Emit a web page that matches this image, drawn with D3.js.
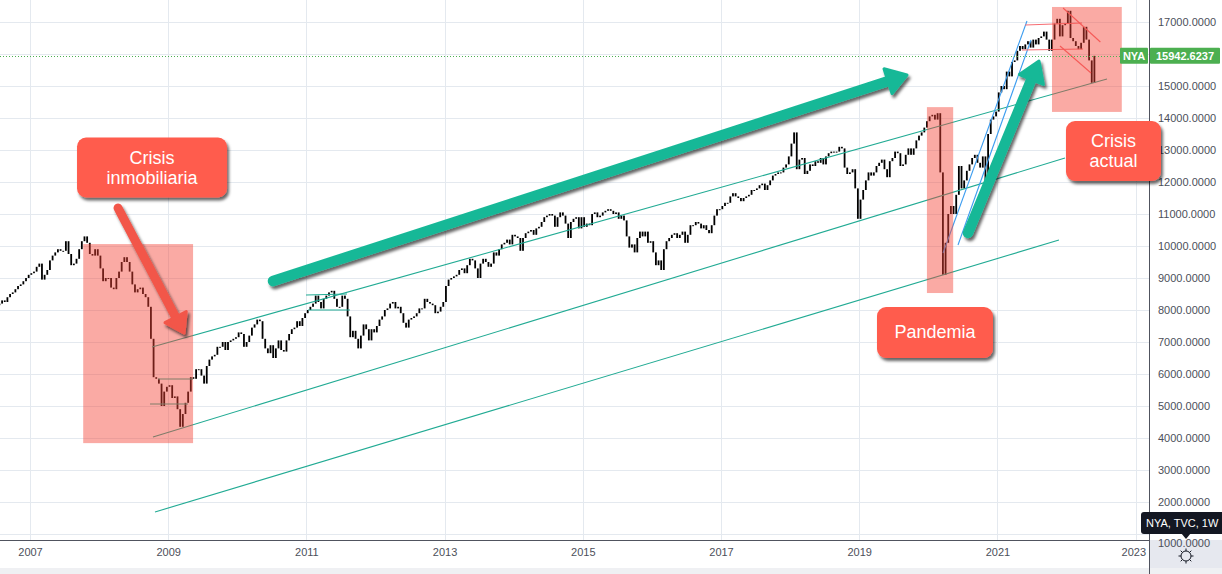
<!DOCTYPE html>
<html>
<head>
<meta charset="utf-8">
<script src="https://cdn.jsdelivr.net/npm/d3@7"></script>
<style>
  body { margin: 0; background: #fff; overflow: hidden; }
  svg { display: block; font-family: "Liberation Sans", Arial, sans-serif; }
</style>
</head>
<body>
<script>
// NYA (NYSE Composite) closes, two per month (26 per year)
var close2006 = [8150, 8200, 8300, 8250, 8400, 8500, 8550, 8650, 8750, 8800, 8900, 9000, 9100]; // from July
var close2007 = [9150, 9200, 9350, 9450, 8950, 9100, 9250, 9550, 9700, 9800, 9900, 9850, 9850, 10150, 9750, 9400, 9450, 9600, 9900, 10150, 10300, 10100, 9750, 9700, 9900, 9700];
var close2008 = [9300, 8900, 9000, 9000, 8700, 8650, 9000, 9200, 9500, 9650, 9500, 9200, 8800, 8550, 8650, 8700, 8500, 8400, 8100, 7100, 5900, 5850, 5700, 5000, 5450, 5600];
var close2009 = [5650, 5250, 5300, 4900, 4350, 4750, 5100, 5450, 5900, 5850, 6150, 6150, 5950, 5700, 6250, 6450, 6550, 6600, 6850, 6850, 7000, 6750, 7000, 7050, 7100, 7150];
var close2010 = [7300, 7250, 6850, 7000, 7200, 7450, 7550, 7700, 7650, 7100, 6800, 6650, 6900, 6500, 6800, 7050, 6750, 6700, 7050, 7250, 7400, 7450, 7650, 7500, 7750, 7900];
var close2011 = [8000, 8100, 8200, 8450, 8250, 8050, 8350, 8450, 8550, 8600, 8350, 8100, 8100, 8450, 8350, 7800, 7150, 7350, 7100, 6800, 7200, 7550, 7400, 7050, 7400, 7300];
var close2012 = [7500, 7700, 7800, 8000, 8050, 8200, 8250, 8050, 8100, 7900, 7600, 7450, 7700, 7750, 7800, 7900, 8050, 8050, 8350, 8250, 8200, 8150, 7900, 7950, 8100, 8250];
var close2013 = [8750, 8950, 9000, 9050, 9100, 9250, 9300, 9150, 9400, 9600, 9550, 9300, 9000, 9450, 9600, 9500, 9350, 9450, 9800, 9700, 9900, 10050, 10100, 10200, 10050, 10350];
var close2014 = [10300, 10250, 9850, 10250, 10400, 10450, 10500, 10350, 10550, 10600, 10750, 10900, 10950, 11000, 10950, 10600, 10900, 11050, 10950, 10700, 10250, 10750, 10850, 10900, 10550, 10900];
var close2015 = [10600, 10700, 10650, 11000, 11050, 10900, 10950, 11050, 11100, 11150, 11100, 11000, 11050, 10850, 10950, 10800, 10300, 9950, 10050, 9800, 10250, 10450, 10300, 10450, 10100, 10150];
var close2016 = [9800, 9400, 9550, 9250, 9900, 10150, 10250, 10350, 10400, 10250, 10350, 10450, 10100, 10350, 10650, 10650, 10750, 10700, 10550, 10650, 10500, 10400, 10650, 10950, 11150, 11150];
var close2017 = [11250, 11350, 11350, 11550, 11650, 11550, 11500, 11400, 11500, 11550, 11600, 11750, 11750, 11800, 11900, 11950, 11750, 11900, 12050, 12200, 12250, 12300, 12300, 12450, 12550, 12800];
var close2018 = [13200, 13550, 12400, 12700, 12750, 12250, 12350, 12550, 12500, 12650, 12600, 12750, 12550, 12800, 12900, 12950, 12950, 12950, 13100, 13050, 12450, 12250, 12300, 12400, 11800, 10850];
var close2019 = [11450, 11750, 12050, 12300, 12200, 12300, 12500, 12600, 12700, 12400, 12150, 12650, 12750, 12950, 12900, 12500, 12550, 12850, 13050, 12850, 13050, 13300, 13450, 13550, 13700, 13900];
var close2020 = [14050, 14100, 13950, 14150, 12300, 9100, 10100, 11000, 11250, 11000, 11600, 12500, 11800, 12050, 12350, 12550, 12750, 12850, 12600, 12450, 12800, 12050, 13500, 13950, 14050, 14200];
var close2021 = [14800, 15000, 14900, 15450, 15300, 15750, 15800, 16100, 16250, 16150, 16300, 16400, 16200, 16450, 16300, 16500, 16550, 16700, 16450, 16100, 16450, 16950, 17100, 16550, 16900, 16950];
var close2022 = [17350, 16500, 16400, 16250, 16150, 16350, 16850, 16450, 15800, 15100, 15942.6237];

var lastPrice = 15942.6237;
var yearTicks = [2007, 2009, 2011, 2013, 2015, 2017, 2019, 2021, 2023];
var priceTicks = [1000, 2000, 3000, 4000, 5000, 6000, 7000, 8000, 9000, 10000, 11000, 12000, 13000, 14000, 15000, 16000, 17000];

// drawings, in (year, price)
var shadeZones = [
  [2007.77, 10060, 2009.36, 3840],
  [2019.98, 14340, 2020.36, 8530],
  [2021.79, 17470, 2022.80, 14190]
];
var tealLines = [
  [2008.766, 6844, 2022.586, 15219],
  [2008.78, 4031, 2021.978, 12750],
  [2008.809, 1688, 2021.891, 10188],
  [2010.994, 8469, 2011.588, 8500],
  [2011.023, 8000, 2011.631, 8000],
  [2008.852, 5844, 2009.359, 5844],
  [2008.737, 5063, 2009.287, 5063]
];
var blueLines = [
  [2020.214, 9781, 2021.428, 17031],
  [2020.43, 10031, 2021.486, 16437]
];
var redLines = [
  [2021.40, 16906, 2022.225, 16969],
  [2021.356, 16125, 2022.24, 16156],
  [2021.95, 17437, 2022.49, 16375],
  [2021.906, 16250, 2022.355, 15406]
];
var arrows = [
  {from: [2008.274, 11188], to: [2009.229, 7281], color: "#f2564a"},
  {from: [2010.517, 8906], to: [2019.692, 15344], color: "#17b897"},
  {from: [2020.574, 10406], to: [2021.602, 15781], color: "#17b897"}
];
var labels = [
  {at: [2008.766, 12453], lines: ["Crisis", "inmobiliaria"]},
  {at: [2020.097, 7297], lines: ["Pandemia"]},
  {at: [2022.68, 12969], lines: ["Crisis", "actual"]}
];

var width = 1222, height = 574;
var plotRight = 1149, plotBottom = 540;

var x = d3.scaleLinear().domain([2007, 2023]).range([30, 1135.6]);
var y = d3.scaleLinear().domain([17000, 2000]).range([22, 502]);

// build candles, open = previous close
var years = [[2006, close2006, 13], [2007, close2007, 0], [2008, close2008, 0], [2009, close2009, 0],
  [2010, close2010, 0], [2011, close2011, 0], [2012, close2012, 0], [2013, close2013, 0],
  [2014, close2014, 0], [2015, close2015, 0], [2016, close2016, 0], [2017, close2017, 0],
  [2018, close2018, 0], [2019, close2019, 0], [2020, close2020, 0], [2021, close2021, 0], [2022, close2022, 0]];
var candles = [];
var prev = null;
years.forEach(function(yr) {
  yr[1].forEach(function(c, i) {
    candles.push({t: yr[0] + (yr[2] + i + 0.5) / 26, o: prev == null ? c : prev, c: c});
    prev = c;
  });
});

var svg = d3.select("body").append("svg")
  .attr("width", width).attr("height", height);

var defs = svg.append("defs");
defs.append("clipPath").attr("id", "plot")
  .append("rect").attr("x", 0).attr("y", 0).attr("width", plotRight).attr("height", plotBottom);
var sh = defs.append("filter").attr("id", "shadow")
  .attr("x", "-20%").attr("y", "-20%").attr("width", "150%").attr("height", "150%");
sh.append("feDropShadow").attr("dx", 2).attr("dy", 3).attr("stdDeviation", 1.4)
  .attr("flood-color", "#000").attr("flood-opacity", 0.6);

var g = svg.append("g").attr("clip-path", "url(#plot)");

// grid
g.selectAll(".hgrid").data(priceTicks).enter().append("line")
  .attr("x1", 0).attr("x2", plotRight)
  .attr("y1", function(d) { return Math.round(y(d)) + 0.5; })
  .attr("y2", function(d) { return Math.round(y(d)) + 0.5; })
  .attr("stroke", "#e4e9ef");
g.selectAll(".vgrid").data(yearTicks).enter().append("line")
  .attr("y1", 0).attr("y2", plotBottom)
  .attr("x1", function(d) { return Math.round(x(d)) + 0.5; })
  .attr("x2", function(d) { return Math.round(x(d)) + 0.5; })
  .attr("stroke", "#e4e9ef");

// candles
g.selectAll(".candle").data(candles).enter().append("rect")
  .attr("x", function(d) { return x(d.t) - 0.9; })
  .attr("width", 1.8)
  .attr("y", function(d) { return y(Math.max(d.o, d.c)); })
  .attr("height", function(d) { return Math.max(1, Math.abs(y(d.o) - y(d.c))); })
  .attr("fill", "#000");

function seg(list, color) {
  g.selectAll(null).data(list).enter().append("line")
    .attr("x1", function(d) { return x(d[0]); })
    .attr("y1", function(d) { return y(d[1]); })
    .attr("x2", function(d) { return x(d[2]); })
    .attr("y2", function(d) { return y(d[3]); })
    .attr("stroke", color).attr("stroke-width", 1.1);
}
seg(tealLines, "#22ab94");
seg(blueLines, "#3d9df0");
seg(redLines, "#f66e74");

// shaded zones
g.selectAll(".zone").data(shadeZones).enter().append("rect")
  .attr("x", function(d) { return x(d[0]); })
  .attr("y", function(d) { return y(d[1]); })
  .attr("width", function(d) { return x(d[2]) - x(d[0]); })
  .attr("height", function(d) { return y(d[3]) - y(d[1]); })
  .attr("fill", "rgba(244, 67, 54, 0.45)");

// last price line
g.append("line")
  .attr("x1", 0).attr("x2", plotRight)
  .attr("y1", Math.round(y(lastPrice)) + 0.5).attr("y2", Math.round(y(lastPrice)) + 0.5)
  .attr("stroke", "#4caf50").attr("stroke-dasharray", "1,2");

// arrows
arrows.forEach(function(a, k) {
  var x0 = x(a.from[0]), y0 = y(a.from[1]), x1 = x(a.to[0]), y1 = y(a.to[1]);
  var len = Math.hypot(x1 - x0, y1 - y0), ux = (x1 - x0) / len, uy = (y1 - y0) / len;
  var nx = -uy, ny = ux;
  var sw = k == 0 ? 9 : 10.5, hl = k == 0 ? 18 : 20, hw = k == 0 ? 12 : 13;
  var bx = x1 - ux * hl, by = y1 - uy * hl;
  var ag = svg.append("g").attr("filter", "url(#shadow)");
  ag.append("line")
    .attr("x1", x0).attr("y1", y0).attr("x2", bx + ux * 3).attr("y2", by + uy * 3)
    .attr("stroke", a.color).attr("stroke-width", sw).attr("stroke-linecap", "round");
  ag.append("path")
    .attr("d", "M" + x1 + "," + y1 + "L" + (bx + nx * hw) + "," + (by + ny * hw) + "L" + (bx - nx * hw) + "," + (by - ny * hw) + "Z")
    .attr("fill", a.color).attr("stroke", a.color).attr("stroke-width", 3).attr("stroke-linejoin", "round");
});

// price axis and time axis
svg.append("rect").attr("x", plotRight).attr("y", plotBottom)
  .attr("width", width - plotRight).attr("height", height - plotBottom).attr("fill", "#e6e8ef");
svg.append("rect").attr("x", 0).attr("y", 568).attr("width", width).attr("height", 6).attr("fill", "#eff0f3");

var yAxis = svg.append("g").attr("transform", "translate(" + plotRight + ",0)")
  .call(d3.axisRight(y).tickValues(priceTicks).tickFormat(d3.format(".4f")).tickSize(0).tickPadding(9));
var xAxis = svg.append("g").attr("transform", "translate(0," + plotBottom + ")")
  .call(d3.axisBottom(x).tickValues(yearTicks).tickFormat(d3.format("d")).tickSize(0).tickPadding(8));
[yAxis, xAxis].forEach(function(ax) {
  ax.select(".domain").remove();
  ax.selectAll("text").attr("fill", "#4c4f5a").attr("font-size", 11)
    .attr("font-family", "'Liberation Sans', Arial, sans-serif");
});
xAxis.selectAll("text").filter(function(d) { return d == 2023; }).attr("text-anchor", "end").attr("dx", 10);
// lowest price label sits just under the symbol tooltip
yAxis.selectAll("text").filter(function(d) { return d == 1000; }).attr("dy", "1.1em");

svg.append("line").attr("x1", 0).attr("x2", plotRight).attr("y1", plotBottom + 0.5).attr("y2", plotBottom + 0.5)
  .attr("stroke", "#50535e");
svg.append("line").attr("x1", plotRight + 0.5).attr("x2", plotRight + 0.5).attr("y1", 0).attr("y2", height)
  .attr("stroke", "#50535e");

// text boxes (drawn over everything, like the chart's callouts)
labels.forEach(function(l) {
  var cx = x(l.at[0]), cy = y(l.at[1]);
  var w = l.lines.length == 1 ? 116 : (l.lines[1].length > 8 ? 150 : 95), h = l.lines.length == 1 ? 51 : 60;
  var bg = svg.append("g");
  bg.append("rect").attr("x", cx - w / 2).attr("y", cy - h / 2).attr("width", w).attr("height", h)
    .attr("rx", 9).attr("fill", "#ff5b4d").attr("filter", "url(#shadow)");
  l.lines.forEach(function(t, i) {
    bg.append("text").attr("x", cx).attr("y", cy + (i - (l.lines.length - 1) / 2) * 20 + 6)
      .attr("text-anchor", "middle").attr("fill", "#fff").attr("font-size", 18).text(t);
  });
});

// last value label
var ly = y(lastPrice);
svg.append("rect").attr("x", 1120).attr("y", ly - 8).attr("width", 28).attr("height", 16).attr("rx", 1).attr("fill", "#4caf50");
svg.append("text").attr("x", 1134).attr("y", ly + 4).attr("text-anchor", "middle")
  .attr("fill", "#fff").attr("font-size", 11).attr("font-weight", "bold").text("NYA");
svg.append("rect").attr("x", 1150).attr("y", ly - 8).attr("width", 70).attr("height", 16).attr("rx", 1).attr("fill", "#4caf50");
svg.append("text").attr("x", 1185).attr("y", ly + 4).attr("text-anchor", "middle")
  .attr("fill", "#fff").attr("font-size", 11).attr("font-weight", "bold").text(d3.format(".4f")(lastPrice));

// symbol tooltip
svg.append("rect").attr("x", 1141).attr("y", 512).attr("width", 90).attr("height", 22).attr("rx", 3).attr("fill", "#131722");
svg.append("path").attr("d", "M1181,533L1191,533L1186,539Z").attr("fill", "#131722");
svg.append("text").attr("x", 1146).attr("y", 527).attr("fill", "#fff").attr("font-size", 11).text("NYA, TVC, 1W");

// settings gear
var gear = svg.append("g").attr("transform", "translate(1186,556)").attr("stroke", "#131722").attr("fill", "none");
gear.append("circle").attr("r", 5);
d3.range(8).forEach(function(i) {
  var a = i * Math.PI / 4;
  gear.append("line").attr("x1", Math.cos(a) * 5).attr("y1", Math.sin(a) * 5)
    .attr("x2", Math.cos(a) * 7.5).attr("y2", Math.sin(a) * 7.5);
});
</script>
</body>
</html>
